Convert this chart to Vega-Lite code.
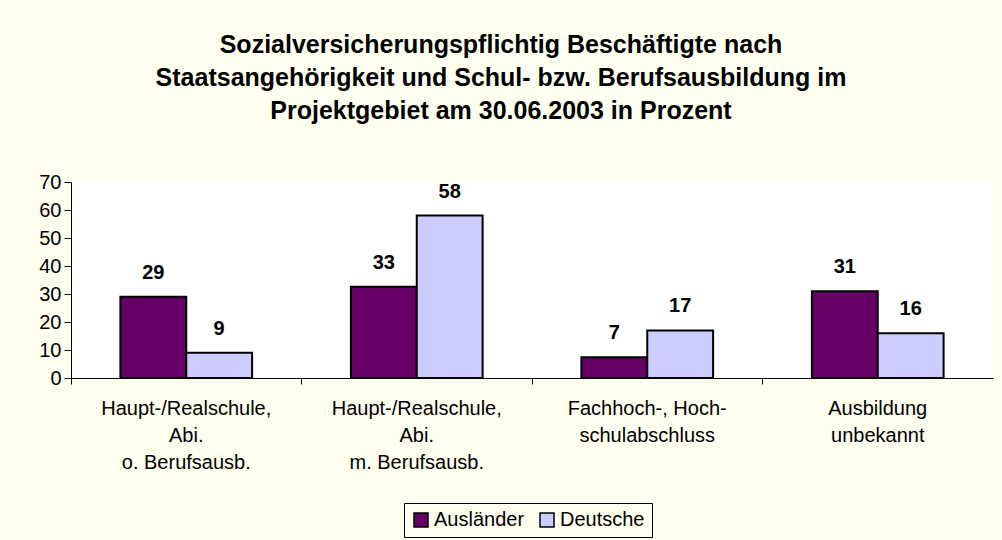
{
  "$schema": "https://vega.github.io/schema/vega-lite/v6.json",
  "autosize": "none",
  "width": 922,
  "height": 196,
  "padding": {"left": 71, "top": 182, "right": 9, "bottom": 162},
  "background": "#FFFFF0",
  "title": {
    "text": ["Sozialversicherungspflichtig Beschäftigte nach", "Staatsangehörigkeit und Schul- bzw. Berufsausbildung im", "Projektgebiet am 30.06.2003 in Prozent"],
    "font": "Liberation Sans",
    "fontSize": 25,
    "fontWeight": "bold",
    "lineHeight": 33,
    "anchor": "middle",
    "frame": "group",
    "dx": -31,
    "offset": 48,
    "color": "#000000"
  },
  "data": {
    "values": [
      {"kategorie": "Haupt-/Realschule,\nAbi.\no. Berufsausb.", "gruppe": "Ausländer", "wert": 29},
      {"kategorie": "Haupt-/Realschule,\nAbi.\no. Berufsausb.", "gruppe": "Deutsche", "wert": 9},
      {"kategorie": "Haupt-/Realschule,\nAbi.\nm. Berufsausb.", "gruppe": "Ausländer", "wert": 32.6},
      {"kategorie": "Haupt-/Realschule,\nAbi.\nm. Berufsausb.", "gruppe": "Deutsche", "wert": 58},
      {"kategorie": "Fachhoch-, Hoch-\nschulabschluss", "gruppe": "Ausländer", "wert": 7.4},
      {"kategorie": "Fachhoch-, Hoch-\nschulabschluss", "gruppe": "Deutsche", "wert": 17},
      {"kategorie": "Ausbildung\nunbekannt", "gruppe": "Ausländer", "wert": 31},
      {"kategorie": "Ausbildung\nunbekannt", "gruppe": "Deutsche", "wert": 16}
    ]
  },
  "encoding": {
    "x": {
      "field": "kategorie",
      "type": "nominal",
      "sort": null,
      "scale": {"paddingInner": 0, "paddingOuter": 0},
      "axis": {
        "title": null,
        "labelAngle": 0,
        "labelExpr": "split(datum.label, '\\n')",
        "labelFont": "Liberation Sans",
        "labelFontSize": 20,
        "labelLineHeight": 27,
        "labelColor": "#000000",
        "labelPadding": 14,
        "bandPosition": 0,
        "tickColor": "#000000",
        "tickSize": 6,
        "domainColor": "#000000",
        "labelBound": false,
        "labelOverlap": false
      }
    },
    "xOffset": {
      "field": "gruppe",
      "type": "nominal",
      "scale": {"paddingInner": 0, "paddingOuter": 0.75}
    },
    "y": {
      "field": "wert",
      "type": "quantitative",
      "scale": {"domain": [0, 70], "nice": false},
      "axis": {
        "title": null,
        "values": [0, 10, 20, 30, 40, 50, 60, 70],
        "grid": false,
        "labelFont": "Liberation Sans",
        "labelFontSize": 20,
        "labelColor": "#000000",
        "labelPadding": 3,
        "tickColor": "#000000",
        "tickSize": 7,
        "domainColor": "#000000"
      }
    }
  },
  "layer": [
    {
      "mark": {"type": "bar", "stroke": "#000000", "strokeWidth": 2},
      "encoding": {
        "color": {
          "field": "gruppe",
          "type": "nominal",
          "scale": {"domain": ["Ausländer", "Deutsche"], "range": ["#660066", "#CCCCFF"]},
          "legend": {
            "title": null,
            "orient": "none",
            "legendX": 333,
            "legendY": 321,
            "direction": "horizontal",
            "symbolType": "square",
            "symbolSize": 196,
            "symbolStrokeColor": "#000000",
            "symbolStrokeWidth": 1.5,
            "labelFont": "Liberation Sans",
            "labelFontSize": 20,
            "labelColor": "#000000",
            "labelOffset": 3,
            "columnPadding": 12,
            "strokeColor": "#000000",
            "padding": 7,
            "fillColor": "#FFFFF0"
          }
        }
      }
    },
    {
      "mark": {"type": "text", "baseline": "middle", "dy": -24, "font": "Liberation Sans", "fontSize": 20, "fontWeight": "bold", "color": "#000000"},
      "encoding": {
        "text": {"field": "wert", "type": "quantitative", "format": ".0f"}
      }
    }
  ],
  "config": {
    "view": {"fill": "#FFFFFF", "stroke": null}
  }
}
